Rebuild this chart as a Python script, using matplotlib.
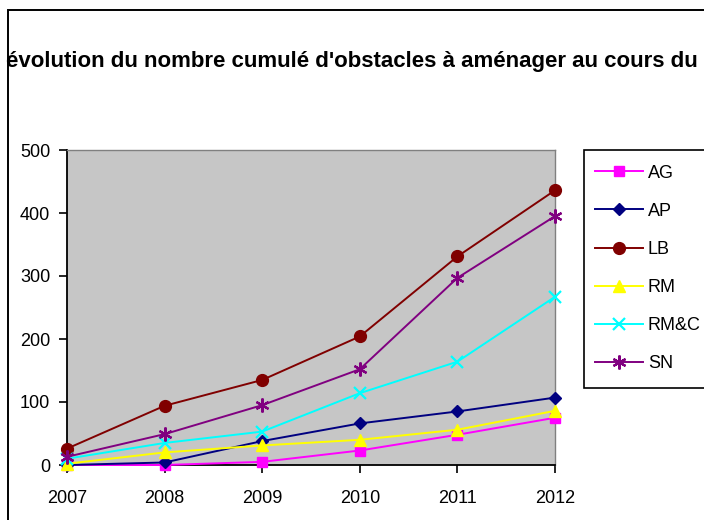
import matplotlib
matplotlib.use("Agg")
import matplotlib.pyplot as plt
from matplotlib.patches import Rectangle

plt.rcParams['font.family'] = ['Liberation Sans', 'DejaVu Sans']

years = [2007, 2008, 2009, 2010, 2011, 2012]
AG = [0, 0, 5, 23, 48, 75]
AP = [0, 4, 38, 66, 85, 107]
LB = [26, 94, 135, 204, 331, 436]
RM = [2, 20, 31, 40, 56, 86]
RMC = [10, 35, 53, 114, 164, 267]
SN = [13, 49, 95, 152, 297, 395]
labels = ['AG', 'AP', 'LB', 'RM', 'RM&C', 'SN']
title = "évolution du nombre cumulé d'obstacles à aménager au cours du"
yticks = [0, 100, 200, 300, 400, 500]

W, H = 704, 520
fig = plt.figure(figsize=(W / 100, H / 100), dpi=100)
fig.patch.set_facecolor('white')

# outer chart frame
fig.add_artist(Rectangle((8 / W, -0.1), 1.2, (H - 10) / H + 0.1, transform=fig.transFigure,
                         fill=False, edgecolor='black', linewidth=1.4))

ax = fig.add_axes([67 / W, (H - 465) / H, (555 - 67) / W, (465 - 150) / H])
ax.set_facecolor('#c6c6c6')

styles = [
    dict(color='#FF00FF', marker='s', ms=7.5, mfc='#FF00FF', mec='#FF00FF'),
    dict(color='#000080', marker='D', ms=6.5, mfc='#000080', mec='#000080'),
    dict(color='#800000', marker='o', ms=8.5, mfc='#800000', mec='#800000'),
    dict(color='#FFFF00', marker='^', ms=8.5, mfc='#FFFF00', mec='#FFFF00'),
    dict(color='#00FFFF', marker='x', ms=8, mew=1.6, mfc='#00FFFF', mec='#00FFFF'),
    dict(color='#800080', marker=(6, 2, 0), ms=10, mew=1.6, mfc='#800080', mec='#800080'),
]
series = [AG, AP, LB, RM, RMC, SN]
order = [2, 5, 4, 1, 3, 0]
handles = {}
for i in order:
    ln, = ax.plot(years, series[i], linewidth=1.4, label=labels[i], clip_on=False, zorder=3 + i, **styles[i])
    handles[i] = ln

ax.set_xlim(2007, 2012)
ax.set_ylim(0, 500)
ax.set_xticks(years)
ax.set_yticks(yticks)
ax.tick_params(axis='both', direction='out', length=6, width=1.2, labelsize=13, colors='black')
ax.tick_params(axis='x', pad=12)
ax.tick_params(axis='y', pad=6)
for s in ['left', 'bottom']:
    ax.spines[s].set_color('black')
    ax.spines[s].set_linewidth(1.3)
for s in ['top', 'right']:
    ax.spines[s].set_color('#808080')
    ax.spines[s].set_linewidth(1.0)

fig.text(352 / W, 1 - 61 / H, title, ha='center', va='center', fontsize=16, fontweight='bold')

# legend box
fig.add_artist(Rectangle((584 / W, 1 - 388 / H), 0.5, (388 - 150) / H, transform=fig.transFigure,
                         facecolor='white', edgecolor='black', linewidth=1.2, zorder=5))
leg = fig.legend([handles[i] for i in range(6)], labels, loc='upper left',
                 bbox_to_anchor=(582 / W, 1 - 152 / H), frameon=False, fontsize=13,
                 handlelength=2.7, labelspacing=1.17, handletextpad=0.25, borderpad=0.2)
leg.set_zorder(6)

fig.savefig('out.png', dpi=100)
